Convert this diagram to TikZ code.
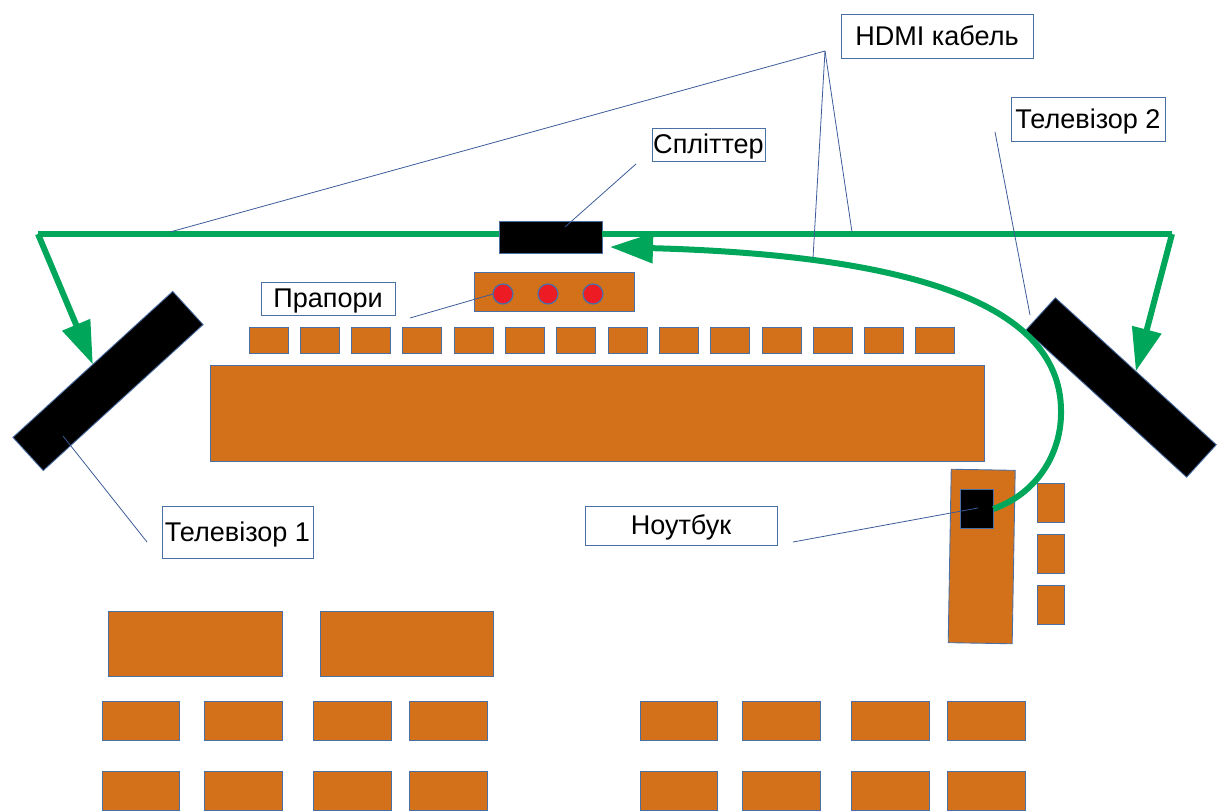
\documentclass[tikz,border=0pt]{standalone}
\usepackage{fontspec}
\setmainfont{Liberation Sans}
\usetikzlibrary{arrows.meta}
\definecolor{deskorange}{HTML}{D2711A}
\definecolor{edgeblue}{HTML}{4A6FA5}
\definecolor{leaderblue}{HTML}{3B5A98}
\definecolor{cablegreen}{HTML}{00A65A}
\definecolor{flagred}{HTML}{ED1C24}
\begin{document}
\begin{tikzpicture}[
    x=0.02cm, y=-0.02cm,
    >={Triangle[length=0.86cm, width=0.58cm]},
    font=\fontsize{15.4}{18}\selectfont,
    desk/.style={
        draw=edgeblue, fill=deskorange, rectangle, line width=0.5pt,
        inner sep=0pt, outer sep=0pt
    },
    frontdesk/.style={desk, minimum width=0.78cm, minimum height=0.52cm},
    seatdesk/.style={desk, minimum width=1.55cm, minimum height=0.78cm},
    maintable/.style={desk, minimum width=3.47cm, minimum height=1.3cm},
    chair/.style={desk, minimum width=0.54cm, minimum height=0.78cm},
    screen/.style={
        draw=edgeblue, fill=black, rectangle, line width=0.5pt,
        inner sep=0pt, outer sep=0pt
    },
    flag/.style={
        draw=edgeblue, fill=flagred, circle, line width=0.7pt,
        minimum size=0.4cm, inner sep=0pt, outer sep=0pt
    },
    label/.style={
        draw=edgeblue, fill=white, rectangle, line width=0.5pt,
        inner sep=0pt, outer sep=0pt, text height=10.5pt, text depth=0pt
    },
    cable/.style={draw=cablegreen, line width=0.12cm},
    leader/.style={draw=leaderblue, line width=0.45pt}
]
\useasboundingbox (0,0) rectangle (1217,811);

% furniture
\node[desk, minimum width=15.5cm, minimum height=1.92cm] (stage) at (597.5,413) {};
\foreach \i in {0,...,13}
    \node[frontdesk] (front\i) at ({268.5+51.3*\i},340) {};
\node[desk, minimum width=3.2cm, minimum height=0.78cm] (flagboard) at (554,291.5) {};
\node[flag] (flagA) at (503,294) {};
\node[flag] (flagB) at (548,294) {};
\node[flag] (flagC) at (593,294) {};

\node[maintable] (tableA) at (195.5,643.5) {};
\node[maintable] (tableB) at (407,643.5) {};
\foreach \x in {141,243.5,352.5,448.5,679,781.5,890.5,986.5}
    \foreach \y in {720.5,790.5}
        \node[seatdesk] (seat\x-\y) at (\x,\y) {};

\node[desk, rotate=-1, minimum width=1.28cm, minimum height=3.47cm] (sidetable) at (981.7,556.5) {};
\node[chair] (chairA) at (1050.5,502.5) {};
\node[chair] (chairB) at (1050.5,553.5) {};
\node[chair] (chairC) at (1050.5,605) {};

% screens and devices
\node[screen, minimum width=2.06cm, minimum height=0.64cm] (splitter) at (550.5,237) {};
\node[screen, rotate=42.4, minimum width=4.33cm, minimum height=0.9cm] (tvone) at (108,381) {};
\node[screen, rotate=-42.4, minimum width=4.36cm, minimum height=0.88cm] (tvtwo) at (1121,387.5) {};
\node[screen, minimum width=0.66cm, minimum height=0.79cm] (laptop) at (976.8,509) {};

% cables
\coordinate (cableleft) at (38,234);
\coordinate (cableright) at (1172,234);
\coordinate (cablebend) at (1061,410);
\coordinate (cableend) at (610,247);
\draw[cable] (cableleft) -- (cableleft -| splitter.west);
\draw[cable] (cableright -| splitter.east) -- (cableright);
\draw[cable, ->] (cableleft) -- (tvone.north);
\draw[cable, ->] (cableright) -- (tvtwo.north);
\draw[cable, ->] (laptop.east) .. controls (1040,492) and (1062,450) .. (cablebend)
    .. controls (1060,300) and (900,255) .. (cableend);

% labels
\node[label, minimum width=3.84cm, minimum height=0.88cm] (hdmilabel) at (937,36) {HDMI кабель};
\node[label, minimum width=3.08cm, minimum height=0.88cm] (tvtwolabel) at (1088,119) {Телевізор 2};
\node[label, minimum width=2.26cm, minimum height=0.66cm] (splitterlabel) at (708.5,144.5) {Спліттер};
\node[label, minimum width=2.68cm, minimum height=0.66cm] (flaglabel) at (328,298.5) {Прапори};
\node[label, minimum width=3.02cm, minimum height=1.04cm] (tvonelabel) at (237.5,532) {Телевізор 1};
\node[label, minimum width=3.84cm, minimum height=0.78cm] (laptoplabel) at (681,525.5) {Ноутбук};

% leaders
\coordinate (hdmifrom) at (825,51);
\coordinate (hdmiA) at (170,232);
\coordinate (hdmiB) at (813,258);
\coordinate (hdmiC) at (852,232);
\coordinate (splitterfrom) at (636,164);
\coordinate (splitterto) at (565,227);
\coordinate (flagfrom) at (410,318);
\coordinate (tvonefrom) at (147,542);
\coordinate (tvoneto) at (63,436);
\coordinate (tvtwofrom) at (995,132);
\coordinate (tvtwoto) at (1030,315);
\coordinate (laptopfrom) at (793,542);
\coordinate (laptopto) at (978,508);
\draw[leader] (hdmifrom) -- (hdmiA);
\draw[leader] (hdmifrom) -- (hdmiB);
\draw[leader] (hdmifrom) -- (hdmiC);
\draw[leader] (splitterfrom) -- (splitterto);
\draw[leader] (flagfrom) -- (flagA.west);
\draw[leader] (tvonefrom) -- (tvoneto);
\draw[leader] (tvtwofrom) -- (tvtwoto);
\draw[leader] (laptopfrom) -- (laptopto);
\end{tikzpicture}
\end{document}
